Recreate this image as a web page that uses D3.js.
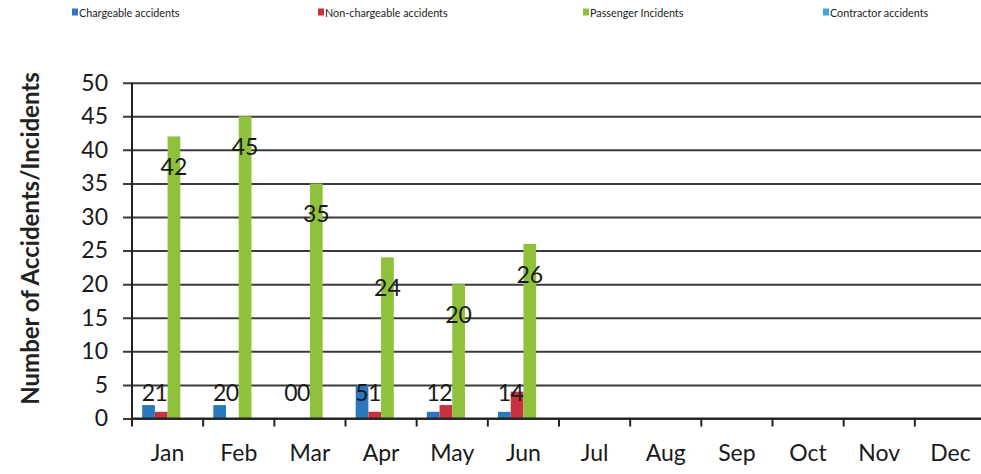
<!DOCTYPE html>
<html>
<head>
<meta charset="utf-8">
<script src="https://cdn.jsdelivr.net/npm/d3@7"></script>
<style>
  body { margin: 0; background: #fff; }
  svg { display: block; font-family: Lato, 'Open Sans', sans-serif; }
</style>
</head>
<body>
<svg id="chart"></svg>
<script>
// data
const months = ['Jan','Feb','Mar','Apr','May','Jun','Jul','Aug','Sep','Oct','Nov','Dec'];
const seriesNames = ['Chargeable accidents','Non-chargeable accidents','Passenger Incidents','Contractor accidents'];
const chargeable = [2, 2, 0, 5, 1, 1, null, null, null, null, null, null];
const nonChargeable = [1, 0, 0, 1, 2, 4, null, null, null, null, null, null];
const passenger = [42, 45, 35, 24, 20, 26, null, null, null, null, null, null];
const contractor = [null, null, null, null, null, null, null, null, null, null, null, null];
const yTicks = [0, 5, 10, 15, 20, 25, 30, 35, 40, 45, 50];

const colors = ['#2a78bd', '#c8323f', '#8fc13d', '#3aa8dc'];
const allSeries = [chargeable, nonChargeable, passenger, contractor];

const width = 981, height = 474;
const margin = {top: 83, right: -5, bottom: 55, left: 132};

const svg = d3.select('#chart')
    .attr('width', width)
    .attr('height', height);

const x = d3.scaleBand()
    .domain(months)
    .range([margin.left, width - margin.right])
    .paddingInner(0)
    .paddingOuter(0);

const inner = d3.scaleBand()
    .domain(d3.range(4))
    .range([0, x.bandwidth()])
    .paddingOuter(0.8)
    .paddingInner(0);

const y = d3.scaleLinear()
    .domain([0, 50])
    .range([height - margin.bottom - 0.5, margin.top - 0.3]);

// gridlines + y axis labels
const yAxis = svg.append('g')
    .attr('transform', `translate(${margin.left},0)`)
    .call(d3.axisLeft(y).tickValues(yTicks).tickSize(9).tickPadding(15)
        .tickSizeOuter(0));
yAxis.select('.domain').remove();
yAxis.selectAll('.tick line')
    .attr('x1', -9)
    .attr('x2', width)
    .attr('stroke', '#3a3a3a')
    .attr('stroke-width', 2);
yAxis.selectAll('.tick text')
    .attr('font-size', 23)
    .attr('fill', '#1a1a1a')
    .attr('font-family', "Lato, 'Open Sans', sans-serif");

// bars
allSeries.forEach((vals, si) => {
    svg.append('g')
        .selectAll('rect')
        .data(months.map((m, i) => ({m: m, v: vals[i]})).filter(d => d.v != null && d.v > 0))
        .join('rect')
        .attr('x', d => x(d.m) + inner(si))
        .attr('width', inner.bandwidth())
        .attr('y', d => y(d.v))
        .attr('height', d => y(0) - y(d.v))
        .attr('fill', colors[si]);
});

// x axis
const xAxis = svg.append('g')
    .attr('transform', `translate(0,${y(0)})`)
    .call(d3.axisBottom(x).tickSize(0).tickPadding(26));
xAxis.select('.domain')
    .attr('d', `M${margin.left},0H${width}`)
    .attr('stroke', '#222')
    .attr('stroke-width', 2);
xAxis.selectAll('.tick text')
    .attr('font-size', 23)
    .attr('fill', '#1a1a1a')
    .attr('font-family', "Lato, 'Open Sans', sans-serif");
// tick marks sit between months
xAxis.append('g')
    .selectAll('line')
    .data(months)
    .join('line')
    .attr('x1', d => x(d))
    .attr('x2', d => x(d))
    .attr('y1', 0)
    .attr('y2', 8)
    .attr('stroke', '#222')
    .attr('stroke-width', 2);

// y axis line
svg.append('line')
    .attr('x1', margin.left).attr('x2', margin.left)
    .attr('y1', y(50)).attr('y2', y(0))
    .attr('stroke', '#222')
    .attr('stroke-width', 2);

// data labels
[chargeable, nonChargeable, passenger].forEach((vals, si) => {
    svg.append('g')
        .selectAll('text')
        .data(months.map((m, i) => ({m: m, v: vals[i]})).filter(d => d.v != null))
        .join('text')
        .attr('x', d => x(d.m) + inner(si) + inner.bandwidth() / 2)
        .attr('y', d => Math.min(y(d.v) + 30, y(0) - 27))
        .attr('dominant-baseline', 'central')
        .attr('text-anchor', 'middle')
        .attr('font-size', 23)
        .attr('fill', '#1a1a1a')
        .text(d => d.v);
});

// y title
svg.append('text')
    .attr('transform', `translate(29,${(75 + 402) / 2}) rotate(-90)`)
    .attr('text-anchor', 'middle')
    .attr('dominant-baseline', 'central')
    .attr('font-size', 24)
    .attr('font-weight', 'bold')
    .attr('fill', '#222')
    .text('Number of Accidents/Incidents');

// legend
const legendX = [72, 318, 583, 823];
const legend = svg.append('g')
    .selectAll('g')
    .data(seriesNames)
    .join('g')
    .attr('transform', (d, i) => `translate(${legendX[i]},12)`);
legend.append('rect')
    .attr('x', 0).attr('y', -3.5)
    .attr('width', 6).attr('height', 7)
    .attr('fill', (d, i) => colors[i]);
legend.append('text')
    .attr('x', 7)
    .attr('dominant-baseline', 'central')
    .attr('font-size', 10.8)
    .attr('fill', '#222')
    .text(d => d);
</script>
</body>
</html>
